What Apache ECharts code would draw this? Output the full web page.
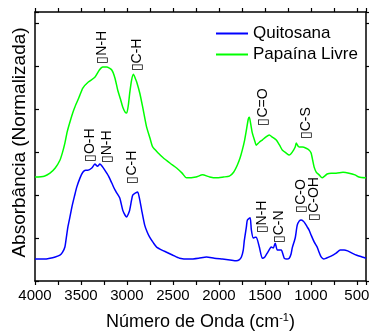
<!DOCTYPE html>
<html><head><meta charset="utf-8">
<script src="https://cdn.jsdelivr.net/npm/echarts@6/dist/echarts.min.js"></script>
<style>html,body{margin:0;padding:0;background:#fff}#c{width:369px;height:334px}</style>
</head><body><div id="c"></div>
<script>
const seriesNames = ['Quitosana', 'Papaína Livre'];
const seriesColors = ['#0000ff', '#00ff00'];

const quitWave = [4000,3900,3837,3780,3729,3700,3675,3660,3642,3620,3599,3570,3545,3510,3480,3450,3425,3382,3349,3320,3295,3270,3241,3200,3165,3130,3111,3078,3046,3020,3002,2985,2970,2950,2937,2905,2883,2860,2840,2807,2780,2753,2710,2677,2620,2569,2500,2428,2319,2220,2135,2050,1962,1880,1810,1780,1755,1735,1723,1701,1690,1660,1647,1626,1605,1593,1560,1528,1500,1474,1440,1430,1408,1387,1365,1322,1300,1289,1260,1235,1215,1202,1170,1148,1125,1105,1072,1040,1020,997,964,931,910,888,860,834,780,725,680,639,600,552,500,443,400];
const quitAbs = [0.51,0.51,0.53,0.56,0.60,0.67,0.79,1.00,1.26,1.49,1.72,1.98,2.19,2.40,2.53,2.58,2.58,2.63,2.72,2.67,2.72,2.67,2.58,2.44,2.28,2.12,2.05,1.93,1.65,1.53,1.49,1.56,1.65,1.88,2.00,2.05,2.07,1.88,1.65,1.30,1.14,1.02,0.88,0.79,0.72,0.67,0.60,0.53,0.51,0.53,0.56,0.53,0.51,0.49,0.47,0.49,0.56,0.72,0.95,1.26,1.42,1.47,1.19,1.00,1.02,1.02,0.79,0.53,0.56,0.65,0.77,0.79,0.77,0.88,0.72,0.72,0.60,0.53,0.51,0.53,0.63,0.77,1.00,1.30,1.40,1.42,1.37,1.26,1.19,1.07,0.91,0.79,0.67,0.56,0.51,0.53,0.58,0.65,0.72,0.72,0.70,0.65,0.60,0.56,0.53];

const papWave = [4000,3900,3837,3780,3729,3700,3675,3650,3620,3590,3566,3520,3480,3420,3349,3300,3263,3220,3165,3130,3100,3070,3046,3020,3002,2985,2970,2950,2930,2910,2894,2860,2829,2786,2750,2720,2660,2612,2530,2460,2400,2352,2250,2178,2100,2027,1950,1886,1840,1799,1770,1745,1720,1701,1680,1669,1655,1636,1610,1593,1560,1528,1490,1452,1420,1376,1340,1311,1270,1235,1202,1170,1159,1140,1127,1090,1051,1020,997,980,964,940,910,877,850,823,780,725,650,584,520,476,400];
const papAbs = [2.42,2.44,2.51,2.63,2.81,3.00,3.21,3.47,3.70,3.91,4.05,4.28,4.49,4.63,4.74,4.91,4.98,4.98,4.91,4.72,4.44,4.23,4.05,3.93,3.91,4.09,4.37,4.67,4.81,4.72,4.63,4.37,4.05,3.58,3.33,3.12,2.98,2.88,2.74,2.63,2.51,2.40,2.42,2.47,2.42,2.40,2.42,2.44,2.53,2.70,2.86,3.05,3.28,3.51,3.77,3.81,3.67,3.44,3.26,3.16,3.23,3.28,3.35,3.40,3.35,3.28,3.16,3.05,2.98,2.93,3.00,3.12,3.21,3.14,3.12,3.12,3.09,3.05,2.98,2.81,2.65,2.53,2.47,2.40,2.44,2.49,2.51,2.51,2.53,2.51,2.47,2.42,2.40];

const xTickLabels = [4000,3500,3000,2500,2000,1500,1000,500];

const annText = ['▯N-H','▯C-H','▯O-H','▯N-H','▯C-H','▯C=O','▯C-S','▯N-H','▯C-N','▯C-O','▯C-OH'];
const annWave = [3274,2894,3404,3219,2948,1517,1051,1528,1343,1105,964];
const annAbs  = [5.44,5.26,3.16,3.12,2.65,4.05,3.67,1.49,1.26,1.98,1.91];

const FONT = 'Liberation Sans, Arial, sans-serif';
const chart = echarts.init(document.getElementById('c'), null, {renderer: 'canvas'});

function zip(a, b) { return a.map((v, i) => [v, b[i]]); }

const xCommon = {
  type: 'value', min: 400, max: 4000, inverse: true, splitNumber: 7,
  axisLine: {show: true, onZero: false, lineStyle: {color: '#000', width: 1.5}},
  axisTick: {show: true, inside: false, length: 4, lineStyle: {color: '#000', width: 1.2}},
  minorTick: {show: true, splitNumber: 2, length: 4, lineStyle: {color: '#000', width: 1.2}},
  splitLine: {show: false}, minorSplitLine: {show: false}
};
const yCommon = {
  type: 'value', min: 0, max: 6.26, interval: 1,
  axisLine: {show: true, onZero: false, lineStyle: {color: '#000', width: 1.5}},
  axisLabel: {show: false},
  splitLine: {show: false}
};

chart.setOption({
  animation: false,
  backgroundColor: '#fff',
  grid: {left: 35, right: 3, top: 12, bottom: 53, containLabel: false, outerBoundsMode: 'none'},
  legend: {
    data: seriesNames, orient: 'vertical', left: 211, top: 19,
    itemWidth: 32, itemHeight: 2, itemGap: 2, icon: 'rect',
    textStyle: {fontFamily: FONT, fontSize: 17, color: '#000', lineHeight: 19}
  },
  xAxis: [
    Object.assign({}, xCommon, {
      position: 'bottom',
      axisLabel: {show: true, fontFamily: FONT, fontSize: 15, color: '#000', margin: 7,
        hideOverlap: false,
        formatter: v => xTickLabels.indexOf(v) >= 0 ? String(v) : ''},
      name: 'Número de Onda (cm{sup|-1})', nameLocation: 'middle', nameGap: 31,
      nameTextStyle: {fontFamily: FONT, fontSize: 18, color: '#000', lineHeight: 20,
        rich: {sup: {fontFamily: FONT, fontSize: 11, color: '#000', verticalAlign: 'top', lineHeight: 20}}}
    }),
    Object.assign({}, xCommon, {position: 'top', axisLabel: {show: false}})
  ],
  yAxis: [
    Object.assign({}, yCommon, {
      position: 'left',
      axisTick: {show: true, inside: true, length: 4, lineStyle: {color: '#000', width: 1.2}},
      name: 'Absorbância (Normalizada)', nameLocation: 'middle', nameGap: 6,
      nameTextStyle: {fontFamily: FONT, fontSize: 19, color: '#000', padding: [0, 0, 0, 8]}
    }),
    Object.assign({}, yCommon, {
      position: 'right',
      axisTick: {show: true, inside: false, length: 4, lineStyle: {color: '#000', width: 1.2}}
    })
  ],
  series: [
    {name: seriesNames[0], type: 'line', data: zip(quitWave, quitAbs), showSymbol: false, smooth: 0.2,
      lineStyle: {color: seriesColors[0], width: 1.5}, itemStyle: {color: seriesColors[0]}, z: 3},
    {name: seriesNames[1], type: 'line', data: zip(papWave, papAbs), showSymbol: false, smooth: 0.2,
      lineStyle: {color: seriesColors[1], width: 1.5}, itemStyle: {color: seriesColors[1]}, z: 2}
  ]
});

const graphics = annText.map((t, i) => {
  const p = chart.convertToPixel({xAxisIndex: 0, yAxisIndex: 0}, [annWave[i], annAbs[i]]);
  return {
    type: 'text', x: p[0], y: p[1], rotation: Math.PI / 2, z: 10,
    style: {text: t, fontFamily: FONT, fontSize: 14, fill: '#000', align: 'center', verticalAlign: 'middle'}
  };
});
chart.setOption({graphic: graphics});
</script>
</body></html>
